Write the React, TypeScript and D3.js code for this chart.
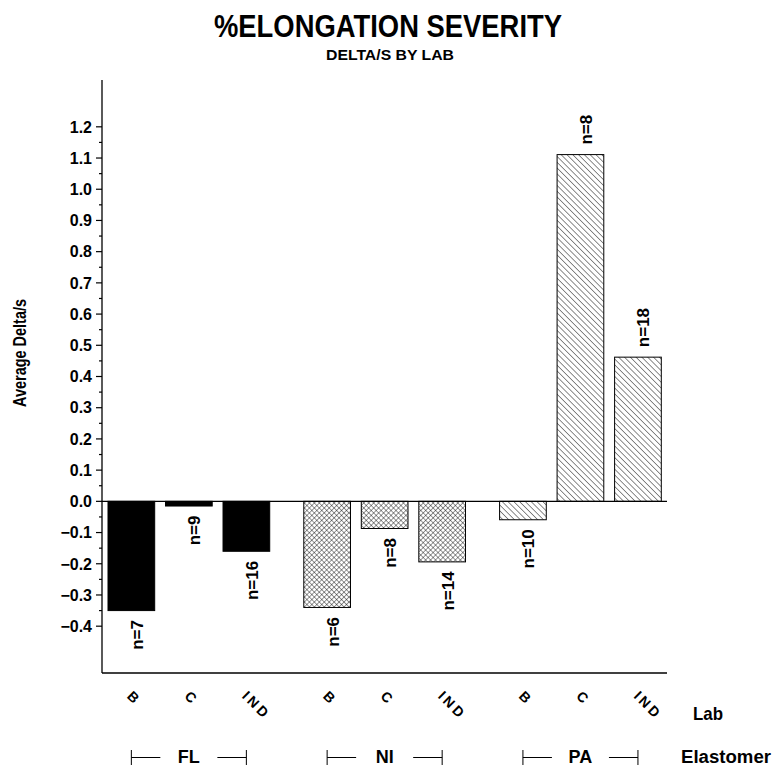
import React from "react";
import * as d3 from "d3";

const elastomers = ["FL", "NI", "PA"];
const labs = ["B", "C", "IND"];
const flValues = [-0.35, -0.015, -0.16];
const niValues = [-0.34, -0.087, -0.194];
const paValues = [-0.059, 1.111, 0.462];
const flCounts = [7, 9, 16];
const niCounts = [6, 8, 14];
const paCounts = [10, 8, 18];
const majorTicks = [-0.4, -0.3, -0.2, -0.1, 0.0, 0.1, 0.2, 0.3, 0.4, 0.5, 0.6, 0.7, 0.8, 0.9, 1.0, 1.1, 1.2];
const minorTicks = [-0.35, -0.25, -0.15, -0.05, 0.05, 0.15, 0.25, 0.35, 0.45, 0.55, 0.65, 0.75, 0.85, 0.95, 1.05, 1.15];

const W = 773;
const H = 768;
const FONT = "'Liberation Sans', Arial, Helvetica, sans-serif";

export default function App() {
  const values: Record<string, number[]> = { FL: flValues, NI: niValues, PA: paValues };
  const counts: Record<string, number[]> = { FL: flCounts, NI: niCounts, PA: paCounts };
  const fills: Record<string, string> = { FL: "#000", NI: "url(#cross)", PA: "url(#diag)" };

  const axisX = 102;
  const plotRight = 667;
  const y = d3.scaleLinear().domain([-0.55, 1.35]).range([673, 80]);
  const x0 = d3.scaleBand<string>().domain(elastomers).range([108, 661.3]).paddingInner(0.174);
  const x1 = d3.scaleBand<string>().domain(labs).range([0, x0.bandwidth()]).paddingInner(0.188);
  const y0 = y(0);

  const bars = elastomers.flatMap((g) =>
    labs.map((l, i) => {
      const v = values[g][i];
      const x = (x0(g) as number) + (x1(l) as number);
      return { g, l, v, n: counts[g][i], x, w: x1.bandwidth(), cx: x + x1.bandwidth() / 2 };
    })
  );

  return (
    <svg
      width={W}
      height={H}
      style={{ position: "absolute", left: 0, top: 0, background: "#fff" }}
      fontFamily={FONT}
    >
      <defs>
        <pattern id="cross" width={3.5} height={3.5} patternUnits="userSpaceOnUse" patternTransform="rotate(45)">
          <rect width={3.5} height={3.5} fill="#fff" />
          <line x1={0} y1={0} x2={0} y2={3.5} stroke="#000" strokeWidth={0.8} />
          <line x1={0} y1={0} x2={3.5} y2={0} stroke="#000" strokeWidth={0.8} />
        </pattern>
        <pattern id="diag" width={4.1} height={4.1} patternUnits="userSpaceOnUse" patternTransform="rotate(-45)">
          <rect width={4.1} height={4.1} fill="#fff" />
          <line x1={0} y1={0} x2={0} y2={4.1} stroke="#000" strokeWidth={0.9} />
        </pattern>
      </defs>

      {/* Title */}
      <text x={388} y={37} textAnchor="middle" fontSize={32} fontWeight="bold" textLength={348} lengthAdjust="spacingAndGlyphs">
        %ELONGATION SEVERITY
      </text>
      <text x={390} y={60} textAnchor="middle" fontSize={15} fontWeight="bold" textLength={128} lengthAdjust="spacingAndGlyphs">
        DELTA/S BY LAB
      </text>

      {/* Y axis label */}
      <text transform={`translate(26,353) rotate(-90)`} textAnchor="middle" fontSize={18} fontWeight="bold" textLength={108} lengthAdjust="spacingAndGlyphs">
        Average Delta/s
      </text>

      {/* Bars */}
      {bars.map((b, i) => (
        <rect
          key={i}
          x={b.x}
          y={Math.min(y(b.v), y0)}
          width={b.w}
          height={Math.abs(y(b.v) - y0)}
          fill={fills[b.g]}
          stroke="#000"
          strokeWidth={1}
        />
      ))}

      {/* n labels */}
      {bars.map((b, i) => {
        const yy = b.v >= 0 ? y(b.v) - 10 : y(b.v) + 9.5;
        return (
          <text
            key={"n" + i}
            transform={`translate(${b.cx + 11.5},${yy}) rotate(-90)`}
            textAnchor={b.v >= 0 ? "start" : "end"}
            fontSize={17}
            fontWeight="bold"
          >
            {`n=${b.n}`}
          </text>
        );
      })}

      {/* Axes */}
      <line x1={axisX} y1={80} x2={axisX} y2={673} stroke="#000" strokeWidth={1.3} />
      <line x1={axisX} y1={673} x2={plotRight} y2={673} stroke="#000" strokeWidth={1.3} />
      <line x1={axisX} y1={y0} x2={plotRight} y2={y0} stroke="#000" strokeWidth={1.3} />

      {majorTicks.map((t) => (
        <g key={"t" + t}>
          <line x1={axisX - 6} x2={axisX} y1={y(t)} y2={y(t)} stroke="#000" strokeWidth={1.2} />
          <text x={92} y={y(t)} dy="0.36em" textAnchor="end" fontSize={16} fontWeight="bold">
            {t < 0 ? "\u2212" + Math.abs(t).toFixed(1) : t.toFixed(1)}
          </text>
        </g>
      ))}
      {minorTicks.map((t) => (
        <line key={"m" + t} x1={axisX - 3} x2={axisX} y1={y(t)} y2={y(t)} stroke="#000" strokeWidth={1.2} />
      ))}

      {/* Lab labels */}
      {bars.map((b, i) => (
        <text
          key={"l" + i}
          transform={`translate(${b.cx - 5},${697}) rotate(45)`}
          textAnchor="start"
          fontSize={14}
          fontWeight="bold"
          letterSpacing={b.l === "IND" ? 3 : 0}
        >
          {b.l}
        </text>
      ))}
      <text x={693} y={720} fontSize={19} fontWeight="bold" textLength={30} lengthAdjust="spacingAndGlyphs">
        Lab
      </text>

      {/* Elastomer groups */}
      {elastomers.map((g) => {
        const left = (x0(g) as number) + (x1("B") as number) + x1.bandwidth() / 2;
        const right = (x0(g) as number) + (x1("IND") as number) + x1.bandwidth() / 2;
        const mid = (left + right) / 2;
        return (
          <g key={"e" + g}>
            <line x1={left} x2={left} y1={750} y2={765} stroke="#000" strokeWidth={1} />
            <line x1={left} x2={left + 29} y1={757.5} y2={757.5} stroke="#000" strokeWidth={1} />
            <line x1={right} x2={right} y1={750} y2={765} stroke="#000" strokeWidth={1} />
            <line x1={right - 29} x2={right} y1={757.5} y2={757.5} stroke="#000" strokeWidth={1} />
            <text x={mid} y={763} textAnchor="middle" fontSize={18} fontWeight="bold">
              {g}
            </text>
          </g>
        );
      })}
      <text x={681} y={763} fontSize={18} fontWeight="bold" textLength={90} lengthAdjust="spacingAndGlyphs">
        Elastomer
      </text>
    </svg>
  );
}
